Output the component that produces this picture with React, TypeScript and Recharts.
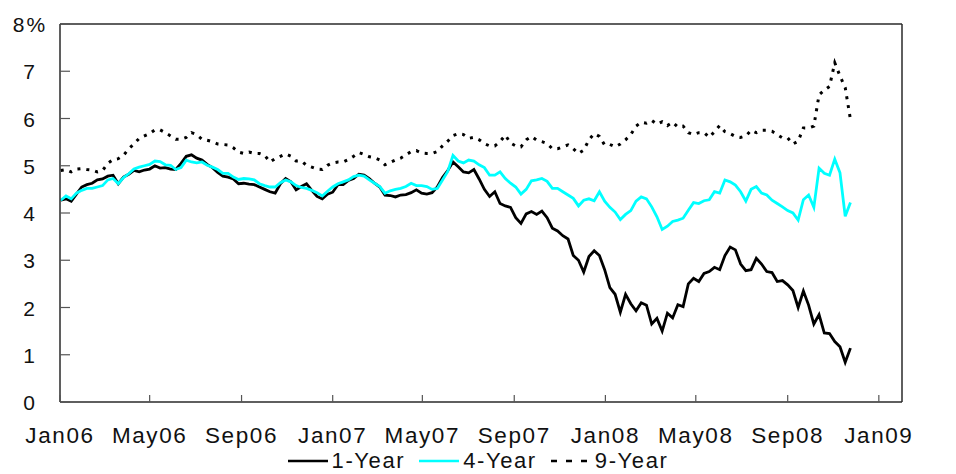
import React from 'react';
import { LineChart, Line, XAxis, YAxis, ReferenceLine, Legend } from 'recharts';

// weekly observations, first one on Monday 2 Jan 2006
const firstWeek = '2006-01-02';

const tickDates = [
  '2006-01-01', '2006-05-01', '2006-09-01', '2007-01-01', '2007-05-01',
  '2007-09-01', '2008-01-01', '2008-05-01', '2008-09-01', '2009-01-01',
];
const tickLabels = ['Jan06', 'May06', 'Sep06', 'Jan07', 'May07', 'Sep07', 'Jan08', 'May08', 'Sep08', 'Jan09'];
const yTicks = [0, 1, 2, 3, 4, 5, 6, 7, 8];

// yields in percent
const oneYear = [
  4.27, 4.30, 4.25, 4.40, 4.55, 4.60, 4.63, 4.70, 4.72, 4.78,
  4.80, 4.62, 4.76, 4.82, 4.90, 4.87, 4.91, 4.93, 5.00, 4.95,
  4.96, 4.93, 4.92, 5.05, 5.20, 5.23, 5.16, 5.12, 5.03, 4.96,
  4.86, 4.78, 4.76, 4.72, 4.62, 4.63, 4.61, 4.60, 4.55, 4.50,
  4.45, 4.42, 4.62, 4.73, 4.66, 4.49, 4.56, 4.62, 4.48, 4.35,
  4.30, 4.40, 4.44, 4.60, 4.60, 4.69, 4.73, 4.82, 4.80, 4.73,
  4.63, 4.55, 4.38, 4.37, 4.34, 4.38, 4.39, 4.43, 4.49, 4.42,
  4.40, 4.43, 4.55, 4.75, 4.90, 5.08, 4.98, 4.87, 4.85, 4.92,
  4.72, 4.50, 4.35, 4.45, 4.20, 4.15, 4.12, 3.90, 3.78, 3.98,
  4.03, 3.97, 4.04, 3.90, 3.68, 3.62, 3.52, 3.45, 3.10, 3.00,
  2.75, 3.08, 3.20, 3.10, 2.80, 2.42, 2.28, 1.90, 2.28, 2.08,
  1.93, 2.10, 2.05, 1.65, 1.77, 1.50, 1.88, 1.78, 2.06, 2.02,
  2.50, 2.62, 2.55, 2.72, 2.76, 2.85, 2.80, 3.10, 3.28, 3.22,
  2.92, 2.78, 2.80, 3.04, 2.92, 2.76, 2.74, 2.55, 2.57, 2.48,
  2.36, 2.00, 2.35, 2.05, 1.65, 1.85, 1.46, 1.45, 1.28, 1.17,
  0.84, 1.14,
];

const fourYear = [
  4.27, 4.36, 4.30, 4.42, 4.48, 4.52, 4.52, 4.55, 4.58, 4.70,
  4.73, 4.62, 4.75, 4.83, 4.93, 4.97, 5.00, 5.03, 5.10, 5.09,
  5.02, 5.01, 4.92, 4.96, 5.12, 5.08, 5.06, 5.08, 5.01, 4.97,
  4.92, 4.84, 4.84, 4.76, 4.71, 4.73, 4.72, 4.70, 4.62, 4.58,
  4.55, 4.55, 4.64, 4.70, 4.66, 4.58, 4.54, 4.52, 4.48, 4.43,
  4.36, 4.46, 4.55, 4.62, 4.66, 4.70, 4.77, 4.80, 4.78, 4.70,
  4.63, 4.56, 4.42, 4.47, 4.50, 4.52, 4.56, 4.63, 4.58, 4.58,
  4.56, 4.50, 4.52, 4.70, 4.88, 5.22, 5.10, 5.06, 5.12, 5.10,
  5.02, 4.96, 4.80, 4.80, 4.87, 4.73, 4.63, 4.55, 4.40, 4.50,
  4.68, 4.70, 4.73, 4.67, 4.52, 4.52, 4.45, 4.38, 4.31, 4.15,
  4.27, 4.30, 4.26, 4.45, 4.25, 4.12, 4.02, 3.86, 3.97, 4.05,
  4.25, 4.34, 4.30, 4.13, 3.92, 3.65, 3.72, 3.82, 3.85, 3.89,
  4.06, 4.22, 4.20, 4.26, 4.28, 4.45, 4.42, 4.70, 4.66, 4.59,
  4.45, 4.25, 4.50, 4.56, 4.42, 4.38, 4.27, 4.20, 4.13, 4.05,
  4.00, 3.85, 4.28, 4.38, 4.12, 4.95, 4.84, 4.80, 5.14, 4.85,
  3.93, 4.22,
];

const nineYear = [
  4.90, 4.92, 4.87, 4.93, 4.94, 4.92, 4.91, 4.87, 4.90, 5.05,
  5.13, 5.15, 5.22, 5.36, 5.46, 5.58, 5.63, 5.68, 5.76, 5.76,
  5.70, 5.63, 5.56, 5.56, 5.60, 5.70, 5.66, 5.56, 5.54, 5.51,
  5.46, 5.45, 5.44, 5.38, 5.29, 5.26, 5.29, 5.26, 5.26, 5.22,
  5.08, 5.15, 5.20, 5.25, 5.20, 5.10, 5.10, 5.01, 4.97, 4.93,
  4.92, 5.01, 5.06, 5.08, 5.08, 5.13, 5.20, 5.28, 5.24, 5.19,
  5.17, 5.12, 5.02, 5.07, 5.12, 5.16, 5.23, 5.30, 5.32, 5.27,
  5.26, 5.26, 5.30, 5.42, 5.52, 5.64, 5.68, 5.66, 5.58, 5.60,
  5.55, 5.47, 5.42, 5.42, 5.51, 5.65, 5.48, 5.42, 5.40, 5.55,
  5.62, 5.54, 5.51, 5.47, 5.36, 5.36, 5.40, 5.44, 5.36, 5.26,
  5.33, 5.55, 5.68, 5.62, 5.44, 5.45, 5.40, 5.46, 5.55, 5.66,
  5.84, 5.92, 5.90, 5.96, 5.88, 5.93, 5.85, 5.92, 5.82, 5.84,
  5.70, 5.66, 5.70, 5.70, 5.60, 5.72, 5.85, 5.72, 5.68, 5.62,
  5.60, 5.63, 5.75, 5.70, 5.75, 5.75, 5.73, 5.66, 5.59, 5.59,
  5.46, 5.52, 5.80, 5.80, 5.84, 6.50, 6.60, 6.68, 7.18, 6.90,
  6.65, 5.98,
];

const DAY_MS = 86400000;
const ORIGIN = Date.parse('2006-01-01');
const dayOf = (iso: string) => Math.round((Date.parse(iso) - ORIGIN) / DAY_MS);

const tickDays = tickDates.map(dayOf);
const firstDay = dayOf(firstWeek);

const data = oneYear.map((v, i) => ({
  day: firstDay + 7 * i,
  oneYear: v,
  fourYear: fourYear[i],
  nineYear: nineYear[i],
}));

const FONT = '"Liberation Sans", Arial, Helvetica, sans-serif';
const FRAME = '#2a2a2a';
const TICK = '#555';

const XTick = (props: any) => {
  const { x, y, payload } = props;
  const label = tickLabels[tickDays.indexOf(payload.value)];
  return (
    <g>
      <line x1={x} x2={x} y1={y} y2={y - 7} stroke={TICK} strokeWidth={1.2} />
      <text x={x} y={y + 41} textAnchor="middle" fontFamily={FONT} fontSize={22.5} letterSpacing={1.6} fill="#111">
        {label}
      </text>
    </g>
  );
};

// y ticks point into the plot on both sides; labels are centred 30px off the frame
const makeYTick = (side: 'left' | 'right') => (props: any) => {
  const { x, y, payload } = props;
  const dir = side === 'left' ? 1 : -1;
  const text = payload.value === 8 ? '8%' : String(payload.value);
  return (
    <g>
      <line x1={x} x2={x + dir * 10} y1={y} y2={y} stroke={TICK} strokeWidth={1.2} />
      <text x={x - dir * 30} y={y + 8} textAnchor="middle" fontFamily={FONT} fontSize={21} letterSpacing={2} fill="#111">
        {text}
      </text>
    </g>
  );
};

const legendItems = [
  { name: '1-Year', color: '#000', dash: undefined as string | undefined },
  { name: '4-Year', color: '#00ffff', dash: undefined as string | undefined },
  { name: '9-Year', color: '#000', dash: '6 9' },
];

const LegendRow = () => (
  <div style={{ display: 'flex', justifyContent: 'center', alignItems: 'center', height: 24, marginTop: 3, fontFamily: FONT, fontSize: 22, lineHeight: '22px', letterSpacing: 1.6, color: '#111' }}>
    {legendItems.map((it, i) => (
      <div key={it.name} style={{ display: 'flex', alignItems: 'center', marginLeft: i === 0 ? 0 : 14 }}>
        <svg width={40} height={10} style={{ marginRight: 4 }}>
          <line x1={0} x2={40} y1={5} y2={5} stroke={it.color} strokeWidth={2.6} strokeDasharray={it.dash} />
        </svg>
        <span>{it.name}</span>
      </div>
    ))}
  </div>
);

export default function App() {
  return (
    <div style={{ position: 'absolute', left: 0, top: 0, width: 956, height: 474, background: '#fff' }}>
      <LineChart width={956} height={474} data={data} margin={{ top: 24, right: 0, bottom: 0, left: 0 }}>
        <XAxis
          dataKey="day"
          type="number"
          domain={[0, 1127]}
          ticks={tickDays}
          interval={0}
          height={44}
          tickSize={0}
          tickMargin={0}
          tickLine={false}
          axisLine={{ stroke: FRAME, strokeWidth: 1.5 }}
          tick={<XTick />}
        />
        <YAxis
          yAxisId="left"
          domain={[0, 8]}
          ticks={yTicks}
          interval={0}
          width={60}
          tickSize={0}
          tickMargin={0}
          tickLine={false}
          axisLine={{ stroke: FRAME, strokeWidth: 1.5 }}
          tick={makeYTick('left')}
        />
        <YAxis
          yAxisId="right"
          orientation="right"
          domain={[0, 8]}
          ticks={yTicks}
          interval={0}
          width={54}
          tickSize={0}
          tickMargin={0}
          tickLine={false}
          axisLine={{ stroke: FRAME, strokeWidth: 1.5 }}
          tick={makeYTick('right')}
        />
        <ReferenceLine yAxisId="left" y={8} stroke={FRAME} strokeWidth={1.5} />
        <Legend
          verticalAlign="bottom"
          height={28}
          content={() => <LegendRow />}
          wrapperStyle={{ left: 0, width: 956, bottom: 0 }}
        />
        <Line yAxisId="left" type="linear" dataKey="nineYear" name="9-Year" stroke="#000" strokeWidth={3} strokeDasharray="3 6" dot={false} isAnimationActive={false} />
        <Line yAxisId="left" type="linear" dataKey="oneYear" name="1-Year" stroke="#000" strokeWidth={2.8} dot={false} isAnimationActive={false} />
        <Line yAxisId="left" type="linear" dataKey="fourYear" name="4-Year" stroke="#00ffff" strokeWidth={2.8} dot={false} isAnimationActive={false} />
      </LineChart>
    </div>
  );
}
